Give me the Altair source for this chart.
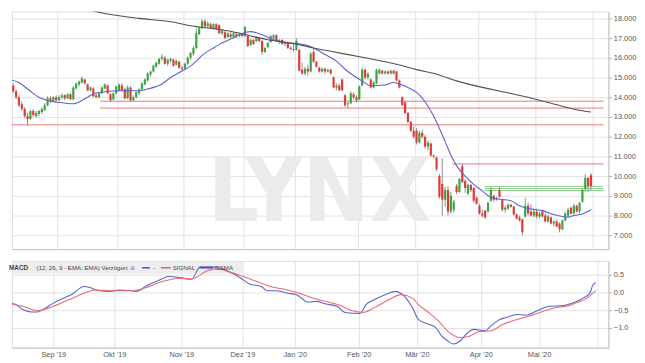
import json
import altair as alt
import pandas as pd

# ---------------- data ----------------
opens = [14.85,14.6,14.3,14.0,13.65,13.4,13.05,12.9,13.3,13.05,13.15,13.25,13.35,13.6,13.95,13.8,14.0,
         13.85,14.0,14.1,13.95,14.15,13.9,14.45,14.65,14.75,14.9,14.65,14.35,14.45,14.1,14.0,14.2,14.45,14.6,14.15,13.9,14.2,
         14.35,14.6,14.4,13.95,14.5,13.85,14.0,14.2,14.4,14.65,14.85,15.15,15.3,15.55,15.7,15.95,16.0,15.7,15.85,15.9,15.65,15.8,15.5,
         15.45,15.7,16.0,16.2,16.5,17.2,17.5,17.85,17.6,17.7,17.5,17.7,17.65,17.25,17.3,17.05,17.2,17.05,17.2,17.1,17.2,
         17.1,17.1,16.65,16.9,16.85,17.0,16.85,16.3,16.55,16.8,17.0,17.15,16.85,16.9,16.7,16.75,16.5,16.45,
         16.4,16.4,15.4,15.2,15.45,15.3,16.3,15.8,15.5,15.3,15.45,15.3,15.4,15.0,14.5,14.6,14.9,14.1,13.65,13.7,14.15,14.0,
         13.9,14.6,15.4,15.0,14.9,14.5,14.7,15.2,15.35,15.2,15.3,15.2,15.35,15.3,14.85,14.0,13.75,13.2,12.75,12.3,
         12.3,11.7,12.2,12.0,11.5,11.65,11.05,10.95,10.0,9.6,8.8,9.3,8.2,8.3,9.5,9.2,10.5,9.75,9.1,9.55,9.4,8.9,
         8.5,8.1,8.25,8.2,8.75,9.0,8.8,9.3,8.8,8.3,8.35,8.55,8.45,8.05,7.9,7.8,7.95,8.5,8.2,8.0,
         8.2,7.95,8.2,8.0,7.7,7.9,7.6,7.7,7.6,7.3,7.75,8.0,8.4,8.1,8.5,8.2,8.7,9.35,9.9,10.05]
highs = [14.95,14.7,14.4,14.1,13.8,13.5,13.2,13.35,13.4,13.3,13.35,13.5,13.7,14.05,14.05,14.05,14.1,
         14.1,14.2,14.15,14.2,14.2,14.55,14.75,14.85,15.05,14.95,14.7,14.55,14.5,14.2,14.25,14.55,14.7,14.65,14.2,14.25,14.6,
         14.7,14.7,14.5,14.6,14.55,14.1,14.3,14.45,14.75,14.95,15.25,15.35,15.65,15.8,16.0,16.2,16.1,15.95,16.0,15.95,15.9,15.85,15.6,
         15.75,16.05,16.3,16.6,17.5,17.6,17.95,17.95,17.85,17.8,17.75,17.75,17.7,17.45,17.35,17.3,17.3,17.3,17.3,17.25,17.25,
         17.62,17.15,16.95,16.95,17.1,17.05,16.9,16.55,16.8,17.15,17.2,17.2,16.95,16.95,16.8,16.8,16.6,16.7,
         17.0,16.45,15.75,15.55,15.65,16.3,16.45,15.85,15.55,15.5,15.5,15.45,15.45,15.05,14.7,14.7,14.95,14.15,13.75,14.3,14.25,14.1,
         14.6,15.5,15.45,15.25,14.95,14.8,15.45,15.45,15.4,15.35,15.35,15.4,15.4,15.35,14.9,14.05,13.8,13.25,12.8,12.5,
         12.45,12.3,12.35,12.1,11.8,11.7,11.1,11.0,10.1,10.9,9.45,9.5,9.2,8.8,9.6,9.9,10.62,9.85,9.6,9.6,9.45,8.95,
         8.6,8.3,8.3,8.7,9.45,9.05,8.95,9.45,8.85,8.5,8.6,8.6,8.5,8.1,8.0,7.85,8.9,8.65,8.55,8.3,
         8.35,8.2,8.3,8.1,8.05,7.95,7.75,7.8,7.65,7.8,8.2,8.4,8.45,8.6,8.55,8.7,9.35,10.1,9.95,10.15]
lows = [14.55,14.2,13.9,13.5,13.3,12.95,12.55,12.85,13.0,12.95,13.05,13.15,13.3,13.55,13.7,13.75,13.8,
        13.8,13.9,13.85,13.9,13.85,13.85,14.4,14.55,14.7,14.65,14.3,14.3,14.0,13.95,13.95,14.15,14.4,14.15,13.75,13.85,14.15,
        14.3,14.3,13.9,13.9,13.75,13.8,13.95,14.1,14.35,14.6,14.8,15.05,15.25,15.5,15.65,15.85,15.65,15.6,15.75,15.55,15.6,15.45,15.35,
        15.4,15.65,15.9,16.1,16.45,17.15,17.45,17.5,17.5,17.45,17.4,17.4,17.2,17.15,16.95,17.0,17.0,17.0,17.0,17.05,17.05,
        17.05,16.55,16.6,16.65,16.8,16.8,16.15,16.25,16.5,16.75,16.9,16.8,16.7,16.65,16.6,16.45,16.4,16.3,
        16.35,15.3,15.15,15.1,15.1,15.25,15.75,15.5,15.25,15.25,15.2,15.25,15.15,14.45,14.35,14.3,14.3,13.5,13.45,13.65,13.9,13.75,
        13.85,14.55,14.9,14.9,14.45,14.45,14.65,15.15,15.15,15.15,15.15,15.15,15.15,14.8,14.45,13.55,13.15,12.7,12.25,11.9,
        11.6,11.65,11.9,11.4,11.3,11.0,10.9,10.25,8.85,8.0,8.45,8.0,8.1,8.15,9.1,9.15,9.65,9.15,9.05,9.2,8.65,8.55,
        8.05,7.9,7.85,8.15,8.7,8.7,8.75,8.9,8.2,8.15,8.3,8.4,8.0,7.8,7.7,7.0,7.9,8.0,7.95,7.9,
        7.85,7.85,7.9,7.65,7.65,7.55,7.45,7.4,7.15,7.25,7.7,7.9,8.05,8.05,8.15,8.1,8.65,9.2,9.2,9.3]
closes = [14.6,14.3,14.0,13.6,13.4,13.05,12.9,13.3,13.1,13.2,13.3,13.4,13.6,13.95,13.8,14.0,13.85,
          14.0,14.1,13.95,14.15,13.9,14.5,14.7,14.8,14.95,14.7,14.35,14.5,14.05,14.0,14.2,14.5,14.65,14.2,13.85,14.2,14.55,
          14.65,14.35,13.95,14.5,13.85,14.0,14.25,14.4,14.7,14.9,15.2,15.3,15.6,15.75,15.95,16.05,15.7,15.9,15.95,15.6,15.85,15.5,15.45,
          15.7,16.0,16.25,16.5,17.25,17.5,17.85,17.6,17.75,17.5,17.7,17.45,17.25,17.4,17.0,17.25,17.05,17.25,17.1,17.2,17.1,
          17.55,16.6,16.9,16.7,17.05,16.85,16.3,16.5,16.75,17.1,17.15,16.85,16.9,16.7,16.75,16.5,16.45,16.4,
          16.85,15.35,15.2,15.45,15.3,16.2,15.8,15.55,15.3,15.45,15.3,15.4,15.2,14.5,14.6,14.35,14.35,13.6,13.7,14.2,14.0,13.85,
          14.55,15.4,15.0,15.2,14.5,14.75,15.4,15.4,15.2,15.3,15.2,15.35,15.2,14.85,14.5,13.6,13.2,12.75,12.3,12.0,
          11.7,12.2,12.0,11.5,11.7,11.05,11.0,10.35,8.95,8.8,9.3,8.2,9.0,8.7,9.2,9.85,9.7,9.4,9.55,9.3,8.75,8.6,
          8.1,8.0,7.9,8.65,9.3,8.8,8.9,8.95,8.3,8.4,8.55,8.45,8.05,7.85,7.75,7.15,8.5,8.1,8.0,8.2,
          7.95,8.1,7.95,7.7,7.95,7.6,7.7,7.45,7.3,7.75,8.1,8.3,8.1,8.5,8.2,8.65,9.3,9.9,9.5,9.5]

# moving averages (trading-day index, value)
ma20_idx = [0,3,6,10,13,16.5,22,26,29,33,38,41,45,48,53,56,60,63,65,67,71,73,79,82,84,88,92,97,100,104,107,110,
            114,117,121,123,126,131,134,136,140,142,149,152,154.5,156.5,159,162,165,168,171,175,178,182,186,190,193,195,197,200,202,203]
ma20_val = [14.88,14.75,14.42,14.0,13.83,13.75,13.67,13.92,14.17,14.28,14.33,14.33,14.33,14.42,14.67,15.0,15.33,15.58,15.83,16.12,
            16.5,16.67,17.08,17.28,17.33,17.17,16.92,16.75,16.72,16.62,16.42,16.17,15.83,15.42,15.0,14.83,14.58,14.62,14.75,14.67,
            14.42,14.25,12.75,11.75,10.92,10.42,10.0,9.58,9.25,8.92,8.83,8.75,8.5,8.33,8.25,8.05,7.95,7.92,8.0,8.08,8.22,8.3]
ma200_idx = [12,19,33,45,56,65,67,74,79,90,101,106,112,124,135,142,149,156,165,173,183,192,198,203]
ma200_val = [19.0,18.75,18.25,18.0,17.83,17.58,17.55,17.42,17.28,16.92,16.67,16.5,16.33,16.0,15.67,15.4,15.17,14.83,
             14.5,14.25,13.92,13.58,13.37,13.25]

# support / resistance lines
level_vals = [13.8, 13.45, 12.6, 10.62, 9.48, 9.37, 9.27]
level_from = [31.4, 31.4, 0, 154.5, 165.7, 165.7, 165.7]
level_kind = ["res", "res", "res", "res", "sup", "sup", "sup"]

# MACD (12, 26, 9)
macd_idx = [0,3,6,9,11,13,16.5,20,23,27,29,32,36,39,43,45,49,53,56,60,64,67,71,74,78,81,84,88,90,93,97,100,104,107,
            110,114,117,122,124,127,131,134,136,140,142,145,148,150,152,154,156.5,159,161,165,167,170,172,176,179,183,
            187,192,195,198,201,202,203]
macd_val = [-0.30,-0.32,-0.48,-0.55,-0.55,-0.48,-0.30,-0.16,-0.05,0.17,0.14,0.055,0.03,0.065,0.055,0.03,0.21,0.35,
            0.45,0.42,0.37,0.72,0.72,0.68,0.54,0.40,0.24,0.17,0.05,0.05,-0.02,-0.06,-0.27,-0.25,-0.32,-0.39,-0.57,-0.59,
            -0.34,-0.20,-0.05,0.03,-0.02,-0.43,-0.76,-0.88,-0.99,-1.22,-1.36,-1.45,-1.36,-1.13,-1.04,-1.07,-0.94,-0.76,
            -0.71,-0.62,-0.64,-0.51,-0.39,-0.37,-0.30,-0.19,-0.02,0.21,0.28]
signal_idx = [0,6,11,16.5,22,27,31,36,43,47,54,60,64,70,73,77,82,88,91,97,101,106,110,115,119,123,127,132,136,140,
              142,145,149,152,156.5,159,163,167,171,176,180,185,189,193,196,200,202,203]
signal_val = [-0.30,-0.39,-0.51,-0.39,-0.20,-0.02,0.07,0.05,0.05,0.10,0.31,0.40,0.38,0.63,0.66,0.58,0.44,0.26,0.17,
              0.07,-0.02,-0.16,-0.25,-0.36,-0.51,-0.56,-0.42,-0.20,-0.06,-0.16,-0.34,-0.53,-0.81,-1.08,-1.27,-1.25,
              -1.10,-1.08,-0.90,-0.76,-0.67,-0.53,-0.43,-0.39,-0.30,-0.16,-0.02,0.05]

month_labels = ["Sep '19", "Okt '19", "Nov '19", "Dez '19", "Jan '20", "Feb '20", "Mär '20", "Apr '20", "Mai '20", ""]
month_starts = [16.5, 37.5, 60.5, 81.5, 99.5, 121.5, 141.5, 163.5, 183.5, 203.5]
price_ticks = [7, 8, 9, 10, 11, 12, 13, 14, 15, 16, 17, 18]
macd_ticks = [0.5, 0.0, -0.5, -1.0]

# ---------------- styling ----------------
FONT = "Liberation Sans"
GRID = "#e2e2e2"
UP, DOWN = "#38a83c", "#e2383a"
kind_colour = {"res": "#ee7474", "sup": "#8ccc8c"}
X_DOMAIN = [2.27, 207.36]
W = 605

candles = pd.DataFrame({"i": list(range(len(closes))), "open": opens, "high": highs,
                        "low": lows, "close": closes})
candles["col"] = [UP if c >= o else DOWN for o, c in zip(opens, closes)]
levels = pd.DataFrame({"start": level_from, "end": [X_DOMAIN[1]] * len(level_vals), "level": level_vals})
levels["col"] = [kind_colour[k] for k in level_kind]
ma20 = pd.DataFrame({"i": ma20_idx, "v": ma20_val})
ma200 = pd.DataFrame({"i": ma200_idx, "v": ma200_val})
macd = pd.DataFrame({"i": macd_idx, "v": macd_val})
signal = pd.DataFrame({"i": signal_idx, "v": signal_val})

xscale = alt.Scale(domain=X_DOMAIN, nice=False, zero=False)
x_axis_top = alt.Axis(values=month_starts, labels=False, ticks=False, grid=True, gridColor=GRID,
                      domain=True, domainColor="#c4c4c4", title=None)
label_expr = "%s[indexof(%s, datum.value)]" % (json.dumps(month_labels, ensure_ascii=False), json.dumps(month_starts))
x_axis_bot = alt.Axis(values=month_starts, labelExpr=label_expr, ticks=False, grid=True, gridColor=GRID,
                      domain=True, domainColor="#c4c4c4", title=None, labelFontSize=7.5, labelColor="#555",
                      labelPadding=3, labelFont=FONT)
pscale = alt.Scale(domain=[6.3, 18.35], nice=False, zero=False)
y_axis_p = alt.Axis(orient="right", values=price_ticks, labelExpr="format(datum.value, '.3f')", grid=True,
                    gridColor=GRID, tickSize=3, tickColor="#aaa", domainColor="#c4c4c4", labelFontSize=7.5,
                    labelColor="#555", labelPadding=2, labelFont=FONT, title=None)
mscale = alt.Scale(domain=[-1.555, 0.889], nice=False, zero=False)
y_axis_m = alt.Axis(orient="right", values=macd_ticks, labelExpr="format(datum.value, '.1f')", grid=True,
                    gridColor=GRID, tickSize=3, tickColor="#aaa", domainColor="#c4c4c4", labelFontSize=7.5,
                    labelColor="#555", labelPadding=2, labelFont=FONT, title=None)

def X(field):
    return alt.X(field, scale=xscale, axis=x_axis_top)

def Yp(field):
    return alt.Y(field, scale=pscale, axis=y_axis_p)

watermark = alt.Chart(pd.DataFrame({"t": ["LYNX"]})).mark_text(
    fontSize=90, fontWeight="bold", color="#ebebeb", font="Liberation Sans Narrow, DejaVu Sans Condensed, Liberation Sans",
    align="center", baseline="alphabetic").encode(text="t:N", x=alt.value(312), y=alt.value(213))

lines = alt.Chart(levels).mark_rule(strokeWidth=1, clip=True).encode(
    x=X("start:Q"), x2="end:Q", y=Yp("level:Q"), color=alt.Color("col:N", scale=None))

wicks = alt.Chart(candles).mark_rule(strokeWidth=1, color="#8a8a8a", clip=True).encode(
    x=X("i:Q"), y=Yp("low:Q"), y2="high:Q")

bodies = alt.Chart(candles).mark_bar(width=2.2, clip=True).encode(
    x=X("i:Q"), y=Yp("open:Q"), y2="close:Q", color=alt.Color("col:N", scale=None))

l20 = alt.Chart(ma20).mark_line(color="#5a62cf", strokeWidth=1.1, clip=True, interpolate="monotone").encode(
    x=X("i:Q"), y=Yp("v:Q"))
l200 = alt.Chart(ma200).mark_line(color="#505050", strokeWidth=1.1, clip=True, interpolate="monotone").encode(
    x=X("i:Q"), y=Yp("v:Q"))

main = alt.layer(watermark, lines, wicks, bodies, l20, l200).properties(width=W, height=241)

# ---------------- MACD panel ----------------
def Xm(field):
    return alt.X(field, scale=xscale, axis=x_axis_bot)

def Ym(field):
    return alt.Y(field, scale=mscale, axis=y_axis_m)

one = pd.DataFrame({"k": [0]})
header_bg = alt.Chart(one).mark_rect(color="#ececec", opacity=0.95).encode(
    x=alt.value(0), x2=alt.value(235), y=alt.value(1), y2=alt.value(13))

mline = alt.Chart(macd).mark_line(color="#5866d0", strokeWidth=1.1, clip=True, interpolate="monotone").encode(
    x=Xm("i:Q"), y=Ym("v:Q"))
sline = alt.Chart(signal).mark_line(color="#ec6a73", strokeWidth=1.1, clip=True, interpolate="monotone").encode(
    x=Xm("i:Q"), y=Ym("v:Q"))

def htext(txt, xpos, bold=False, colour="#444", size=6.2):
    return alt.Chart(pd.DataFrame({"t": [txt]})).mark_text(
        fontSize=size, font=FONT, fontWeight="bold" if bold else "normal", color=colour,
        align="left", baseline="middle").encode(text="t:N", x=alt.value(xpos), y=alt.value(7))

def hseg(x1, x2, colour):
    return alt.Chart(one).mark_rule(color=colour, strokeWidth=1.4).encode(
        x=alt.value(x1), x2=alt.value(x2), y=alt.value(7))

header = [htext("MACD", -3, bold=True, size=6.5), htext("(12, 26, 9 - EMA, EMA) Verzögert", 25),
          htext("⊕", 120, colour="#7a8ab8"),
          hseg(132, 140, "#3a46b8"), htext("-", 143), hseg(151, 161, "#e0505a"), htext("SIGNAL", 163),
          hseg(190, 204, "#3a46b8"), htext("GSMA", 206)]

macd_panel = alt.layer(header_bg, mline, sline, *header).properties(width=W, height=88)

chart = alt.vconcat(main, macd_panel, spacing=10).properties(padding=0).configure_view(
    stroke=None).configure(background="white", font=FONT)

chart.save("out.html", embed_options={"renderer": "svg", "actions": False})
